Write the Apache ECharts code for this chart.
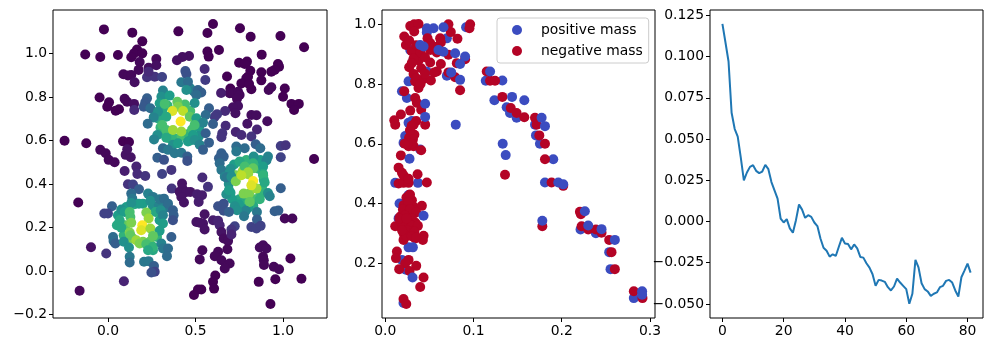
<!DOCTYPE html>
<html>
<head>
<meta charset="utf-8">
<style>
  html, body { margin: 0; padding: 0; background: #fff; }
  #chart { width: 993px; height: 352px; }
</style>
<script src="https://cdn.jsdelivr.net/npm/echarts@6/dist/echarts.min.js"></script>
</head>
<body>
<div id="chart"></div>
<script>
// left panel: [x, y, density], the ring points go underneath
const densityRings = [
  [.105,.295,.55],[.152,.307,.6],[.2,.31,.55],[.257,.298,.5],[.291,.303,.45],[.333,.292,.4],[.057,.257,.55],[.051,.211,.6],[.101,.211,.75],
  [.114,.15,.75],[.143,.15,.8],[.2,.135,.8],[.238,.135,.75],[.28,.157,.65],[.295,.234,.55],[.272,.272,.6],[.257,.096,.6],[.09,.165,.65],
  [.27,.73,.55],[.29,.7,.6],[.3,.66,.65],[.32,.63,.65],[.35,.61,.65],[.38,.61,.65],[.42,.62,.7],[.46,.63,.65],[.48,.65,.7],[.5,.68,.65],
  [.47,.735,.7],[.44,.765,.7],[.34,.76,.65],[.31,.74,.6],[.52,.66,.55],[.52,.62,.5],[.47,.6,.55],[.47,.84,.45],[.49,.825,.4],
  [.72,.49,.55],[.7,.47,.5],[.87,.51,.55],[.86,.47,.65],[.79,.51,.65],[.89,.42,.6],[.88,.38,.65],[.87,.35,.65],[.84,.33,.7],[.78,.32,.65],
  [.75,.33,.6],[.71,.33,.55],[.69,.4,.5],[.7,.36,.55],[.83,.3,.6],[.8,.29,.55],[.76,.29,.5],[.7,.44,.65],[.73,.44,.8],[.77,.46,.85]
];
const densityPoints = [
  [-.023,1.11,0],[.139,1.095,0],[.402,1.101,0],[.568,1.093,0],[.6,1.135,0],[.754,1.115,0],[.815,1.076,0],[.985,1.08,0],[1.12,1.028,0],
  [.196,1.055,0],[.166,1.018,0],[.149,1,0],[.196,1,0],[.133,.982,0],[-.13,.995,0],[-.044,.983,0],[.057,.992,0],[.634,1.015,0],[.568,1.008,0],
  [.575,.985,0],[.878,.994,0],[.463,.988,.04],[.425,.983,.04],[.394,.968,.04],[.276,.974,.02],[.181,.96,.02],[.276,.945,.04],[.232,.934,.04],
  [.175,.924,.02],[.088,.904,.02],[.114,.898,.02],[.133,.901,.02],[.152,.867,.04],[.749,.957,0],[.794,.962,0],[.781,.951,0],[.971,.951,0],
  [.977,.939,0],[.952,.924,0],[.933,.916,0],[.876,.913,0],[.813,.92,0],[.8,.893,0],[.79,.885,0],[.68,.894,0],[.876,.876,0],[.762,.862,0],
  [.819,.835,0],[.806,.859,0],[.699,.839,0],[.695,.817,.02],[.646,.818,.08],[.714,.817,.02],[.743,.824,.02],[.752,.809,.02],[.737,.791,.02],
  [1.01,.839,0],[.933,.844,.02],[.918,.832,.02],[1,.801,0],[-.048,.797,0],[.006,.775,0],[-.004,.755,0],[.063,.743,0],[.044,.737,0],
  [.095,.791,.02],[.109,.778,.02],[.149,.768,.04],[1.048,.768,0],[1.09,.768,0],[1.063,.74,0],[.743,.758,.04],[.714,.752,.04],[.728,.725,.04],
  [.15,.74,.12],[.223,.89,.15],[.267,.893,.15],[.309,.891,.2],[.232,.916,.12],[.552,.928,.12],[.556,.878,.18],[.669,.735,.12],[.623,.72,.17],
  [.61,.709,.17],[.672,.668,.12],[.796,.677,.05],[.819,.717,.03],[.848,.716,.03],[.91,.688,.03],[.851,.65,.1],[.73,.639,.1],[.762,.625,.12],
  [.819,.618,.15],[.653,.633,.15],[.648,.615,.15],[-.248,.599,0],[-.124,.587,0],[.086,.596,0],[.12,.593,0],[-.044,.557,.02],[-.013,.541,.02],
  [.004,.511,.02],[.038,.5,.02],[.101,.534,.05],[.13,.523,.05],[.11,.56,.05],[.095,.46,.08],[.162,.48,.1],[.168,.446,.12],[.213,.437,.15],
  [.309,.446,.2],[.362,.465,.15],[.539,.43,.12],[.987,.575,.18],[1.015,.578,.15],[.987,.523,.2],[1.177,.515,0],
  [.442,.919,.25],[.448,.905,.25],[.419,.867,.4],[.457,.87,.35],[.448,.832,.5],[.514,.832,.32],[.533,.82,.3],[.505,.809,.35],[.223,.794,.3],
  [.213,.775,.28],[.204,.755,.28],[.242,.748,.35],[.314,.829,.45],[.305,.801,.5],[.352,.806,.55],[.295,.771,.55],[.396,.778,.75],[.324,.768,.7],
  [.495,.772,.5],[.577,.748,.3],[.558,.717,.35],[.4,.755,.8],[.368,.735,.95],[.429,.735,.9],[.467,.709,.75],[.286,.732,.5],[.261,.706,.45],
  [.227,.677,.35],[.333,.709,.6],[.505,.702,.55],[.543,.682,.45],[.6,.676,.3],[.415,.687,1],[.31,.671,.7],[.495,.671,.7],[.333,.648,.7],
  [.371,.648,.85],[.419,.641,.85],[.282,.625,.5],[.263,.605,.45],[.333,.613,.6],[.486,.625,.55],[.457,.595,.55],[.495,.602,.5],[.371,.58,.5],
  [.4,.587,.55],[.524,.58,.45],[.558,.633,.3],[.577,.59,.3],[.543,.557,.3],[.314,.564,.35],[.282,.521,.3],[.32,.511,.25],[.343,.557,.4],
  [.381,.541,.4],[.419,.544,.4],[.453,.526,.3],[.453,.506,.25],[.733,.572,.35],[.781,.564,.35],[.733,.549,.4],[.844,.583,.3],[.87,.564,.35],
  [.914,.526,.45],[.905,.508,.45],[.832,.526,.5],[.648,.541,.3],[.634,.518,.3],[.661,.526,.3],[.638,.495,.35],[.648,.465,.4],[.695,.453,.5],
  [.752,.503,.6],[.829,.495,.65],[.781,.48,.7],[.829,.472,.75],[.886,.48,.55],[.8,.454,.85],[.886,.446,.6],[.667,.434,.45],
  [.114,.399,.15],[.143,.398,.2],[.177,.376,.3],[.133,.356,.35],[.139,.333,.4],[.364,.379,.15],[.423,.402,.05],[.425,.379,.05],[.41,.364,.05],
  [.448,.364,.05],[.47,.364,.05],[.419,.341,.05],[.434,.315,.05],[.509,.353,.08],[.537,.349,.08],[.518,.318,.08],[.571,.387,.15],[-.17,.315,0],
  [.229,.356,.45],[.257,.341,.4],[.242,.323,.5],[.295,.33,.4],[.32,.333,.35],[.343,.31,.35],[.371,.28,.3],[.375,.257,.3],[.371,.234,.25],
  [.023,.298,.3],[0,.265,.2],[-.021,.265,.2],[.076,.283,.5],[.095,.272,.55],[.177,.31,.55],[.133,.313,.5],[.124,.272,.7],[.128,.249,.7],
  [.219,.269,.8],[.301,.28,.5],[.314,.257,.45],[.232,.242,.85],[.067,.234,.6],[.076,.2,.6],[.133,.222,.8],[.196,.211,1],[.19,.188,.95],
  [.242,.196,.85],[.314,.219,.55],[.295,.185,.55],[.124,.177,.8],[.128,.165,.75],[.257,.162,.75],[.162,.142,.85],[.181,.127,.8],[.219,.124,.7],
  [.257,.112,.65],[.229,.096,.6],[.362,.157,.3],[.029,.157,.35],[.032,.139,.35],[.042,.127,.3],[.09,.135,.5],[.12,.109,.5],[.124,.066,.4],
  [.124,.04,.35],[.305,.127,.45],[.314,.104,.4],[.343,.104,.35],[.337,.069,.35],[.206,.043,.4],[.232,.046,.4],[.263,.024,.3],[.267,-.003,.2],
  [.248,-.006,.25],[-.01,.081,.15],[-.097,.11,.05],[-.162,-.09,.02],[.091,-.046,.1],
  [.676,.43,.4],[.705,.433,.5],[.73,.413,.8],[.8,.445,.85],[.829,.414,1],[.762,.44,.9],[.886,.44,.65],[.895,.407,.6],[.676,.353,.5],[.691,.372,.55],
  [.775,.356,.8],[.806,.356,.8],[.848,.379,.85],[.819,.394,.95],[.867,.33,.65],[.81,.318,.75],[.914,.359,.5],[.924,.344,.45],[.987,.381,.3],
  [.749,.306,.55],[.724,.298,.5],[.787,.277,.45],[.737,.28,.5],[.777,.252,.4],[.851,.272,.4],[.629,.298,.25],[.661,.31,.25],[.661,.277,.25],
  [.691,.272,.3],[.952,.275,.3],[.973,.278,.3],[.851,.237,.3],[.819,.203,.2],[.848,.196,.2],[.872,.208,.2],[.724,.206,.2],[.705,.191,.15],
  [.552,.261,.05],[.505,.226,.05],[.543,.219,.05],[.524,.222,.05],[.552,.191,.05],[.6,.234,.08],[.629,.231,.1],[.638,.211,.1],[.648,.18,.05],
  [.661,.15,.03],[.686,.139,.03],[.705,.168,.1],[.682,.101,.02],[.629,.089,.02],[.61,.069,.02],[.648,.05,.02],[.695,.035,.02],[.667,.012,.02],
  [.539,.096,.02],[.524,.054,.02],[.867,.109,.03],[.886,.119,.03],[.905,.104,.03],[.886,.066,.02],[.89,.05,.02],[.891,.028,.02],[.947,.02,.02],
  [.977,.009,.02],[1.042,.058,0],[1.01,.242,.02],[1.053,.242,.02],[.956,-.037,0],[1.105,-.035,0],[.861,-.049,0],[.613,-.02,0],[.6,-.049,0],
  [.606,-.08,0],[.533,-.084,0],[.514,-.084,0],[.491,-.109,0],[.928,-.151,0]
];

// middle panel
const positiveUnder = [
  [.0916,.99],[.0471,.987],[.0547,.987],[.0471,.973],[.0698,.953],[.0698,.828],[.1327,.812],[.1139,.811],[.1237,.746],[.1576,.746],[.1376,.722],
  [.1414,.703],[.1489,.687],[.1697,.664],[.1708,.628],[.1753,.6],[.1904,.548],[.0264,.809],[.0189,.776],[.0245,.753],[.0283,.914],[.0321,.881],
  [.0207,.603],[.0226,.626],[.0264,.67],[.0302,.676],[.0396,.581],[.0471,.842],[.0113,.469],[.037,.469],[.181,.47],[.0162,.4],[.0264,.428],
  [.0151,.35],[.0264,.253],[.0189,.211],[.0234,.178],[.0207,.067],[.2213,.313],[.2387,.3],[.2538,.237],[.2553,.18],[.2817,.083]
];
const negativeMass = [
  [.0283,.994],[.0328,1],[.0377,1.001],[.0328,.976],[.0215,.959],[.0234,.931],[.0271,.946],[.0479,.953],[.0622,.953],[.063,.939],[.0509,.937],
  [.0716,1],[.0743,.974],[.0818,.952],[.0962,1],[.0954,.987],[.0377,.914],[.0339,.898],[.0396,.89],[.0377,.879],[.0509,.914],[.0584,.906],
  [.0716,.898],[.0811,.87],[.0905,.883],[.0509,.872],[.063,.867],[.0271,.856],[.0321,.834],[.0407,.853],[.0716,.839],[.0584,.842],[.0554,.839],
  [.0339,.809],[.0377,.787],[.0434,.817],[.0517,.812],[.0792,.823],[.0848,.779],[.0215,.776],[.0339,.753],[.0358,.737],[.0407,.714],[.0283,.711],
  [.0177,.698],[.0102,.679],[.0113,.664],[.0351,.676],[.0321,.664],[.0452,.664],[.0294,.631],[.0313,.614],[.0283,.609],[.0264,.592],[.0321,.592],
  [.0407,.578],[.0177,.561],[.0151,.52],[.0189,.503],[.0366,.498],[.0471,.47],[.115,.842],[.1188,.811],[.1244,.811],[.1327,.757],[.1422,.72],
  [.1489,.703],[.1576,.689],[.1697,.687],[.1716,.664],[.1746,.628],[.181,.6],[.181,.548],[.1357,.496],
  [.0151,.467],[.0207,.469],[.0264,.469],[.0207,.494],[.0264,.483],[.0275,.428],[.0302,.411],[.0207,.394],[.0264,.394],[.0321,.389],[.0415,.392],
  [.0245,.372],[.017,.356],[.0113,.324],[.0245,.344],[.0302,.344],[.0339,.336],[.0226,.322],[.0283,.317],[.0321,.317],[.0207,.3],[.0264,.3],
  [.0339,.283],[.0207,.278],[.0434,.292],[.0426,.278],[.0132,.239],[.0121,.217],[.0264,.211],[.0226,.2],[.0351,.191],[.0275,.174],[.0158,.18],
  [.0434,.152],[.0396,.12],[.0207,.08],[.0238,.063],[.0321,.378],[.0264,.367],[.0207,.356],[.0302,.361],
  [.1885,.47],[.2017,.459],[.2206,.372],[.2217,.364],[.2225,.324],[.23,.313],[.2387,.313],[.2451,.302],[.2538,.278],[.2564,.237],[.2602,.18],
  [.178,.324],[.2817,.106],[.2915,.083],
  [.024,.42],[.028,.43],[.026,.405],[.02,.38],[.028,.38],[.035,.37],[.022,.36],[.03,.35],[.018,.34],[.026,.335],[.035,.33],[.02,.325],[.03,.325],
  [.025,.31],[.037,.325],[.033,.305],[.024,.29],[.03,.29],[.035,.285],[.019,.31],[.016,.35],[.024,.35],
  [.027,.62],[.03,.6],[.025,.6],[.033,.63],[.028,.645],[.03,.66],[.022,.6],
  [.03,.91],[.035,.93],[.04,.905],[.032,.885],[.045,.89],[.055,.925],[.06,.92],[.03,.87],[.035,.82],[.04,.8],[.045,.835]
];
const positiveOver = [
  [.0603,.914],[.066,.99],[.0792,.903],[.0905,.892],[.0848,.867],[.0747,.839],[.0848,.814],[.1188,.842],[.1437,.757],[.1772,.687],[.181,.659],
  [.0799,.664],[.1331,.6],[.1365,.562],[.0452,.69],[.0452,.734],[.0275,.55],[.0396,.931],[.0434,.926],[.0659,.908],[.1961,.47],[.2017,.464],
  [.0434,.359],[.0313,.253],[.0309,.152],[.178,.342],[.2262,.374],[.23,.326],[.2451,.314],[.2602,.278],[.2911,.106],[.2911,.094]
];

// right panel: one value per step, 0..81
const lossValues = [
  .1198,.1085,.097,.0659,.0562,.0514,.0387,.0249,.0297,.0331,.0341,.0307,.0293,.0303,.0343,.0317,.0239,.0189,.0139,.0018,-.0006,.0014,
  -.0042,-.0068,.0008,.0103,.0072,.0022,.0038,.0028,-.0006,-.0028,-.0103,-.0159,-.0177,-.0213,-.0199,-.0209,-.0153,-.0099,-.0133,-.0137,
  -.0169,-.0139,-.0163,-.0215,-.0219,-.0253,-.028,-.032,-.039,-.0354,-.0358,-.0366,-.0398,-.0418,-.0394,-.0346,-.037,-.039,-.041,-.0499,
  -.0438,-.0233,-.0278,-.0374,-.041,-.0424,-.0451,-.0438,-.043,-.0398,-.039,-.036,-.0354,-.037,-.0418,-.0455,-.0338,-.0298,-.0255,-.031
];

const xTicks1 = [0, 0.5, 1];
const yTicks1 = [-0.2, 0, 0.2, 0.4, 0.6, 0.8, 1];
const xTicks2 = [0, 0.1, 0.2, 0.3];
const yTicks2 = [0.2, 0.4, 0.6, 0.8, 1];
const xTicks3 = [0, 20, 40, 60, 80];
const yTicks3 = [-0.05, -0.025, 0, 0.025, 0.05, 0.075, 0.1, 0.125];

const viridis = ['#440154', '#482878', '#3e4989', '#31688e', '#26828e', '#1f9e89', '#35b779', '#6ece58', '#b5de2b', '#fde725'];
const FONT = 'DejaVu Sans';
const MARKER = 10;

function fmt(digits) {
  return v => Number(v).toFixed(digits).replace('-', '\u2212');
}

function axis(gridIndex, min, max, ticks, digits, margin) {
  return {
    type: 'value',
    gridIndex,
    min,
    max,
    splitLine: { show: false },
    axisLine: { show: false, onZero: false },
    axisTick: { show: true, length: 4, customValues: ticks, lineStyle: { color: '#000', width: 1 } },
    axisLabel: {
      customValues: ticks,
      formatter: fmt(digits),
      color: '#000',
      fontFamily: FONT,
      fontSize: 13.9,
      margin
    }
  };
}

function gridBox(left, width) {
  return { left, top: 10, width, height: 308, show: true, borderColor: '#000', borderWidth: 1, backgroundColor: '#fff' };
}

function scatter(name, color, data, z) {
  return {
    type: 'scatter',
    name,
    xAxisIndex: 1,
    yAxisIndex: 1,
    data,
    z,
    symbolSize: MARKER,
    itemStyle: { color, opacity: 1 },
    silent: true
  };
}

const chart = echarts.init(document.getElementById('chart'), null, { renderer: 'canvas' });
chart.setOption({
  animation: false,
  backgroundColor: '#fff',
  grid: [gridBox(53, 274), gridBox(382, 273), gridBox(710, 273)],
  xAxis: [
    axis(0, -0.314, 1.251, xTicks1, 1, 6),
    axis(1, -0.0037, 0.3057, xTicks2, 1, 6),
    axis(2, -4.05, 85.05, xTicks3, 0, 6)
  ],
  yAxis: [
    axis(0, -0.215, 1.199, yTicks1, 1, 6),
    axis(1, 0.0164, 1.048, yTicks2, 1, 6),
    axis(2, -0.0585, 0.1282, yTicks3, 3, 6)
  ],
  visualMap: {
    show: false,
    type: 'continuous',
    seriesIndex: 0,
    dimension: 2,
    min: 0,
    max: 1,
    inRange: { color: viridis }
  },
  legend: {
    left: 497,
    top: 18,
    orient: 'vertical',
    padding: [4, 6, 4, 15],
    itemGap: 5,
    itemWidth: 28,
    itemHeight: 10,
    icon: 'circle',
    selectedMode: false,
    data: ['positive mass', 'negative mass'],
    backgroundColor: 'rgba(255,255,255,0.8)',
    borderColor: '#ccc',
    borderWidth: 1,
    borderRadius: 3,
    textStyle: { color: '#000', fontFamily: FONT, fontSize: 13.9, padding: [0, 0, 0, 5], lineHeight: 16 }
  },
  series: [
    {
      type: 'scatter',
      xAxisIndex: 0,
      yAxisIndex: 0,
      data: densityRings.concat(densityPoints),
      encode: { x: 0, y: 1 },
      symbolSize: MARKER,
      itemStyle: { opacity: 1 },
      silent: true
    },
    scatter('positive mass', '#3b4cc0', positiveUnder, 2),
    scatter('negative mass', '#b40426', negativeMass, 3),
    scatter('positive mass', '#3b4cc0', positiveOver, 3.5),
    {
      type: 'line',
      xAxisIndex: 2,
      yAxisIndex: 2,
      data: lossValues.map((v, i) => [i, v]),
      showSymbol: false,
      lineStyle: { color: '#1f77b4', width: 2 },
      silent: true
    }
  ]
});
</script>
</body>
</html>
